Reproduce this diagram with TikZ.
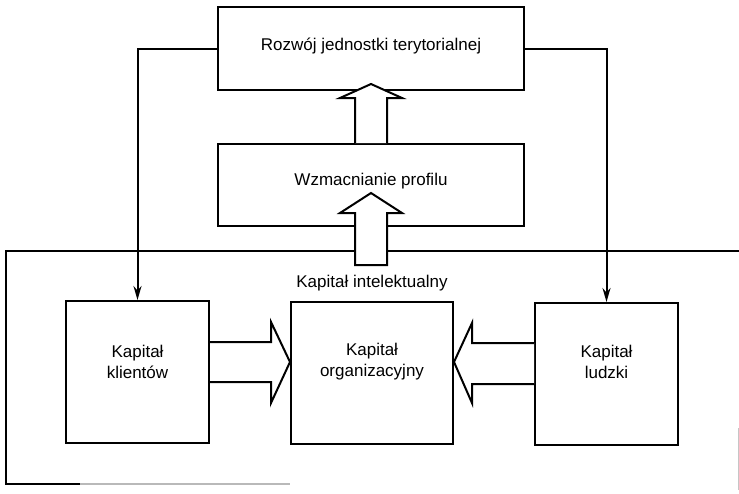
\documentclass[tikz,border=0pt]{standalone}
\usepackage{fontspec}
\setmainfont{Liberation Sans}
\usetikzlibrary{calc,arrows.meta}
\begin{document}
\begin{tikzpicture}[x=1pt,y=-1pt,line width=2pt,
  box/.style={draw,line width=2pt,inner sep=0pt},
  txt/.style={inner sep=0pt,align=center,font=\fontsize{17}{21}\selectfont},
  hollow/.style={draw,fill=white,line width=2pt,line join=miter},
  link/.style={draw,line width=2pt,-{Stealth[length=14pt,width=8pt]}}]
\useasboundingbox (0,0) rectangle (739,493);
% frame
\draw (739,251) -- (6,251) -- (6,484) -- (80,484);
\draw[gray!55] (80,484) -- (290,484);
\draw[gray!45,line width=0.8pt] (738,428) -- (738,490);
% boxes
\node[box,minimum width=306pt,minimum height=83pt] (rozwoj) at (371,48.5) {};
\node[txt] (trozwoj) at (371,46) {Rozwój jednostki terytorialnej};
\node[box,minimum width=306pt,minimum height=82pt] (wzm) at (371,185) {};
\node[txt] (twzm) at (371,181) {Wzmacnianie profilu};
\node[txt] (tintel) at (372,283) {Kapitał intelektualny};
\node[box,minimum width=143pt,minimum height=142pt] (klient) at (137.5,372) {};
\node[txt] (tklient) at (137.5,362) {Kapitał\\klientów};
\node[box,minimum width=162pt,minimum height=142pt] (org) at (372,373) {};
\node[txt] (torg) at (372,362) {Kapitał\\organizacyjny};
\node[box,minimum width=143pt,minimum height=142pt] (ludzki) at (606.5,374) {};
\node[txt] (tludzki) at (606.5,362) {Kapitał\\ludzki};
% thin connectors
\draw[link] (rozwoj.west) -| (klient.north);
\draw[link] (rozwoj.east) -| (ludzki.north);
% hollow arrow: wzm -> rozwoj
\draw[hollow] ($(wzm.north)+(-16,0)$) -- ($(wzm.north)+(-16,-45)$) -- ($(wzm.north)+(-31,-45)$)
  -- ($(rozwoj.south)+(0,-7)$) -- ($(wzm.north)+(31,-45)$) -- ($(wzm.north)+(16,-45)$)
  -- ($(wzm.north)+(16,0)$);
% hollow arrow: intellectual capital -> wzm
\coordinate (bfoot) at (371,265);
\draw[hollow] ($(bfoot)+(-16,0)$) -- ($(bfoot)+(-16,-52)$) -- ($(bfoot)+(-31,-52)$)
  -- ($(wzm.center)+(0,8)$) -- ($(bfoot)+(31,-52)$) -- ($(bfoot)+(16,-52)$)
  -- ($(bfoot)+(16,0)$) -- cycle;
% hollow arrow: klient -> org
\draw[hollow] ($(klient.east)+(0,-30)$) -- ($(klient.east)+(61,-30)$) -- ($(klient.east)+(61,-50)$)
  -- ($(org.west)+(0,-11)$) -- ($(klient.east)+(61,31)$) -- ($(klient.east)+(61,10)$)
  -- ($(klient.east)+(0,10)$);
% hollow arrow: ludzki -> org
\draw[hollow] ($(ludzki.west)+(0,-31)$) -- ($(ludzki.west)+(-62,-31)$) -- ($(ludzki.west)+(-62,-51)$)
  -- ($(org.east)+(0,-11)$) -- ($(ludzki.west)+(-62,29)$) -- ($(ludzki.west)+(-62,10)$)
  -- ($(ludzki.west)+(0,10)$);
\end{tikzpicture}
\end{document}
